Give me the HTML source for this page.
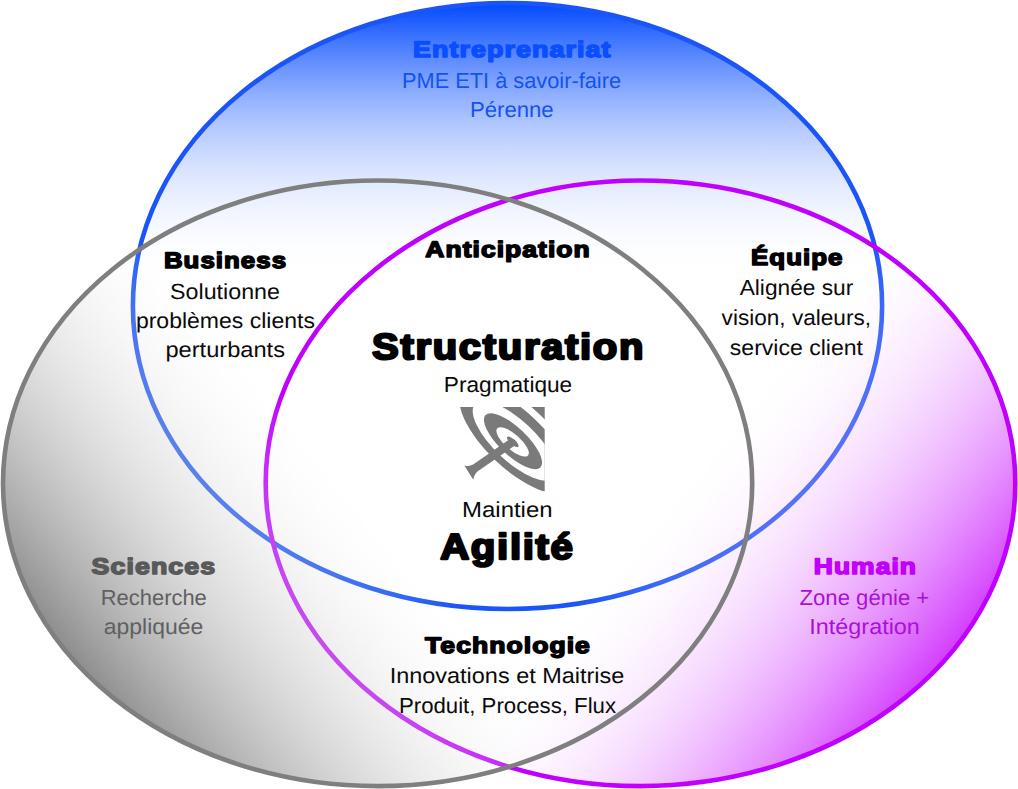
<!DOCTYPE html>
<html lang="fr">
<head>
<meta charset="utf-8">
<title>Structuration – Agilité</title>
<style>
html,body{margin:0;padding:0;background:#fff;}
body{width:1018px;height:789px;overflow:hidden;font-family:"Liberation Sans",sans-serif;}
svg{display:block;position:absolute;left:0;top:0;text-rendering:geometricPrecision;}
.h{font-family:"Liberation Sans",sans-serif;font-weight:bold;font-size:22.5px;stroke-width:1.5px;stroke-linejoin:round;letter-spacing:0.9px;}
.H{font-family:"Liberation Sans",sans-serif;font-weight:bold;font-size:36.2px;stroke-width:2.3px;stroke-linejoin:round;letter-spacing:1.5px;}
.b{font-family:"Liberation Sans",sans-serif;font-size:21.8px;}
.k{fill:#000;stroke:#000;}
.kb{fill:#0a0a0a;}
</style>
</head>
<body>
<svg width="1018" height="789" viewBox="0 0 1018 789">
<defs>
<linearGradient id="gBlue" gradientUnits="userSpaceOnUse" x1="0" y1="3" x2="0" y2="277">
<stop offset="0" stop-color="#0048ff" stop-opacity="1"/>
<stop offset="1" stop-color="#ffffff" stop-opacity="0"/>
</linearGradient>
<linearGradient id="gGray" gradientUnits="userSpaceOnUse" x1="91.1" y1="714.8" x2="366.8" y2="492.1">
<stop offset="0" stop-color="#7f7f7f" stop-opacity="1"/>
<stop offset="1" stop-color="#ffffff" stop-opacity="0"/>
</linearGradient>
<linearGradient id="gPurple" gradientUnits="userSpaceOnUse" x1="948.5" y1="732.2" x2="660.5" y2="499.5">
<stop offset="0" stop-color="#c400fc" stop-opacity="1"/>
<stop offset="1" stop-color="#ffffff" stop-opacity="0"/>
</linearGradient>
<clipPath id="icl"><rect x="459.8" y="407.1" width="84.9" height="84.4"/></clipPath>
</defs>
<ellipse cx="507.5" cy="306" rx="374.6" ry="303" fill="url(#gBlue)" stroke="#1b55f7" stroke-width="4.6"/>
<ellipse cx="640.5" cy="483.3" rx="374.8" ry="302.8" fill="url(#gPurple)" stroke="#bf00ff" stroke-width="4.6"/>
<ellipse cx="377.6" cy="483.3" rx="374.6" ry="302.8" fill="url(#gGray)" stroke="#7f7f7f" stroke-width="4.6"/>

<g text-anchor="middle">
<text class="h" x="512.3" y="56.8" fill="#0a4eff" stroke="#0a4eff" textLength="198.4" lengthAdjust="spacingAndGlyphs">Entreprenariat</text>
<text class="b" x="511.5" y="87.5" fill="#1453f2" textLength="219.0" lengthAdjust="spacingAndGlyphs">PME ETI à savoir-faire</text>
<text class="b" x="511.8" y="116.7" fill="#1453f2" textLength="83.7" lengthAdjust="spacingAndGlyphs">Pérenne</text>

<text class="h k" x="225.5" y="268.4" textLength="123.1" lengthAdjust="spacingAndGlyphs">Business</text>
<text class="b kb" x="225.0" y="298.5" textLength="109.8" lengthAdjust="spacingAndGlyphs">Solutionne</text>
<text class="b kb" x="225.4" y="327.8" textLength="179.0" lengthAdjust="spacingAndGlyphs">problèmes clients</text>
<text class="b kb" x="225.2" y="357.1" textLength="119.6" lengthAdjust="spacingAndGlyphs">perturbants</text>

<text class="h k" x="508.0" y="257" textLength="165.4" lengthAdjust="spacingAndGlyphs">Anticipation</text>

<text class="h k" x="797.3" y="264.7" textLength="92.4" lengthAdjust="spacingAndGlyphs">Équipe</text>
<text class="b kb" x="796.5" y="294.7" textLength="113.6" lengthAdjust="spacingAndGlyphs">Alignée sur</text>
<text class="b kb" x="796.3" y="324.8" textLength="149.4" lengthAdjust="spacingAndGlyphs">vision, valeurs,</text>
<text class="b kb" x="796.4" y="355.0" textLength="133.2" lengthAdjust="spacingAndGlyphs">service client</text>

<text class="H k" x="508.6" y="358.6" textLength="273.0" lengthAdjust="spacingAndGlyphs">Structuration</text>
<text class="b kb" x="508.0" y="392.2" textLength="128.4" lengthAdjust="spacingAndGlyphs">Pragmatique</text>
<text class="b kb" x="507.3" y="516.5" textLength="90.5" lengthAdjust="spacingAndGlyphs">Maintien</text>
<text class="H k" x="507.4" y="558.8" textLength="134.5" lengthAdjust="spacingAndGlyphs">Agilité</text>

<text class="h" x="153.9" y="574.4" fill="#595959" stroke="#595959" textLength="124.6" lengthAdjust="spacingAndGlyphs">Sciences</text>
<text class="b" x="153.8" y="604.9" fill="#606060" textLength="106.0" lengthAdjust="spacingAndGlyphs">Recherche</text>
<text class="b" x="153.6" y="634.4" fill="#606060" textLength="99.6" lengthAdjust="spacingAndGlyphs">appliquée</text>

<text class="h" x="865.4" y="574.4" fill="#bf00fa" stroke="#bf00fa" textLength="103.2" lengthAdjust="spacingAndGlyphs">Humain</text>
<text class="b" x="864.4" y="604.9" fill="#a812d8" textLength="129.7" lengthAdjust="spacingAndGlyphs">Zone génie +</text>
<text class="b" x="864.6" y="634.4" fill="#a812d8" textLength="110.6" lengthAdjust="spacingAndGlyphs">Intégration</text>

<text class="h k" x="508.0" y="653.2" textLength="165.9" lengthAdjust="spacingAndGlyphs">Technologie</text>
<text class="b kb" x="507.0" y="683.3" textLength="234.7" lengthAdjust="spacingAndGlyphs">Innovations et Maitrise</text>
<text class="b kb" x="507.5" y="713.2" textLength="217.1" lengthAdjust="spacingAndGlyphs">Produit, Process, Flux</text>
</g>

<g clip-path="url(#icl)">
<rect x="459" y="406" width="87" height="87" fill="#ffffff"/>
<g transform="translate(514.3 440.8) rotate(43.5)" fill="#7a7a7a">
<path d="M-130 0A130 46.5 0 0 1 130 0L96 0A96 36.5 0 0 0 -96 0Z"/>
</g>
<ellipse transform="translate(515.2 439.8) rotate(43.5)" rx="72" ry="28.5" fill="#7a7a7a"/>
<ellipse transform="translate(514.5 440.9) rotate(43.1)" rx="54" ry="20.4" fill="#ffffff"/>
<ellipse transform="translate(513 441.2) rotate(43.5)" rx="37.9" ry="13.8" fill="#7a7a7a"/>
<ellipse transform="translate(512.6 441.9) rotate(41.2)" rx="20.5" ry="7.6" fill="#ffffff"/>
<g transform="translate(512.8 442) rotate(145.2)" fill="#7a7a7a">
<path d="M0 -4.1L45.5 -4.1Q50 -4.5 54 -8.4L53.2 8.4Q50 4.5 45.5 4.1L0 4.1Z"/>
</g>
<ellipse transform="translate(512.8 441.8) rotate(42)" rx="7.4" ry="2.7" fill="#7a7a7a"/>
</g>
</svg>
</body>
</html>
